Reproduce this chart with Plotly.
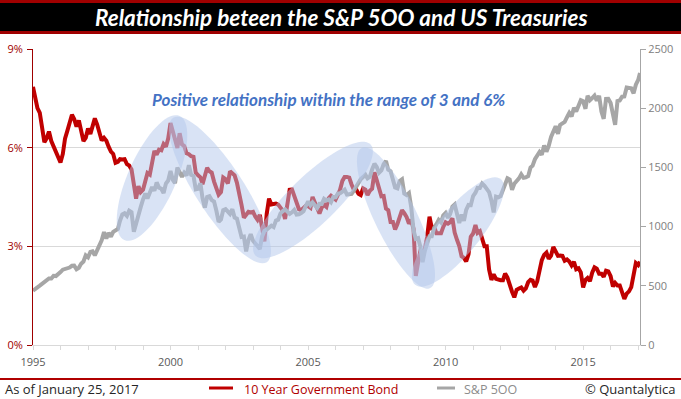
import math
import pandas as pd
import plotly.graph_objects as go

# ---------------- data ----------------
months = pd.date_range("1995-01-01", "2017-01-01", freq="MS").strftime("%Y-%m-%d").tolist()
dates = months + ["2017-01-25"]

bond_yield = [
    7.85, 7.47, 7.20, 7.06, 6.63, 6.17, 6.28, 6.49, 6.20, 6.04, 5.93, 5.71,
    5.55, 5.81, 6.27, 6.51, 6.74, 7.00, 6.87, 6.64, 6.83, 6.53, 6.20, 6.30,
    6.58, 6.42, 6.69, 6.89, 6.71, 6.49, 6.22, 6.30, 6.21, 6.03, 5.88, 5.81,
    5.54, 5.57, 5.65, 5.64, 5.65, 5.50, 5.46, 5.34, 4.81, 4.45, 4.83, 4.65,
    4.72, 5.00, 5.23, 5.18, 5.54, 5.90, 5.79, 5.94, 5.92, 6.11, 6.03, 6.28,
    6.75, 6.52, 6.26, 5.99, 6.44, 6.10, 6.05, 5.83, 5.80, 5.74, 5.72, 5.24,
    5.16, 5.10, 4.89, 5.14, 5.39, 5.28, 5.24, 4.97, 4.73, 4.57, 4.65, 5.09,
    5.04, 4.91, 5.28, 5.21, 5.16, 4.93, 4.65, 4.26, 3.87, 3.94, 4.05, 4.03,
    4.05, 3.90, 3.81, 3.96, 3.57, 3.15, 3.98, 4.45, 4.27, 4.29, 4.30, 4.27,
    4.15, 4.08, 3.83, 4.35, 4.72, 4.73, 4.50, 4.28, 4.13, 4.10, 4.19, 4.23,
    4.22, 4.17, 4.50, 4.34, 4.14, 4.00, 4.18, 4.26, 4.20, 4.46, 4.54, 4.47,
    4.42, 4.57, 4.72, 4.99, 5.11, 5.11, 5.09, 4.88, 4.72, 4.73, 4.60, 4.56,
    4.76, 4.72, 4.56, 4.69, 4.75, 5.25, 5.00, 4.67, 4.52, 4.53, 4.15, 4.10,
    3.74, 3.74, 3.51, 3.68, 3.88, 4.10, 4.01, 3.89, 3.69, 3.81, 3.53, 2.10,
    2.52, 2.87, 2.82, 2.93, 3.29, 3.90, 3.56, 3.59, 3.40, 3.39, 3.40, 3.59,
    3.73, 3.69, 3.73, 3.85, 3.42, 3.20, 3.01, 2.70, 2.65, 2.54, 2.76, 3.29,
    3.39, 3.65, 3.41, 3.46, 3.17, 3.00, 3.00, 2.30, 1.98, 2.15, 2.01, 1.98,
    1.97, 1.97, 2.17, 2.05, 1.80, 1.62, 1.45, 1.68, 1.72, 1.75, 1.65, 1.72,
    1.91, 1.98, 1.96, 1.76, 1.93, 2.30, 2.58, 2.74, 2.81, 2.62, 2.72, 2.98,
    2.86, 2.71, 2.72, 2.71, 2.56, 2.60, 2.54, 2.42, 2.53, 2.30, 2.33, 2.21,
    1.75, 1.98, 2.04, 1.94, 2.20, 2.36, 2.32, 2.17, 2.17, 2.07, 2.26, 2.24,
    2.09, 1.78, 1.89, 1.81, 1.81, 1.64, 1.40, 1.56, 1.63, 1.76, 2.14, 2.49,
    2.43, 2.53,
]

sp500 = [
    459, 470, 487, 501, 515, 533, 545, 562, 562, 584, 582, 605,
    616, 636, 640, 646, 654, 669, 671, 640, 652, 687, 705, 757,
    741, 786, 791, 757, 801, 848, 885, 954, 899, 947, 915, 955,
    970, 980, 1049, 1102, 1112, 1091, 1134, 1121, 957, 1017, 1099, 1164,
    1229, 1280, 1238, 1286, 1335, 1302, 1373, 1329, 1320, 1283, 1363, 1389,
    1469, 1394, 1366, 1499, 1452, 1421, 1455, 1431, 1518, 1437, 1429, 1315,
    1320, 1366, 1240, 1160, 1249, 1256, 1224, 1211, 1134, 1041, 1060, 1139,
    1148, 1130, 1107, 1147, 1076, 1067, 990, 912, 916, 790, 886, 936,
    880, 856, 841, 810, 917, 964, 975, 990, 1008, 996, 1051, 1058,
    1112, 1131, 1145, 1126, 1107, 1121, 1141, 1102, 1104, 1115, 1130, 1174,
    1212, 1181, 1204, 1181, 1157, 1192, 1191, 1234, 1220, 1229, 1207, 1249,
    1248, 1280, 1281, 1295, 1311, 1270, 1270, 1277, 1304, 1336, 1378, 1401,
    1418, 1438, 1407, 1421, 1482, 1531, 1503, 1455, 1474, 1527, 1555, 1481,
    1468, 1379, 1331, 1323, 1386, 1400, 1280, 1267, 1283, 1165, 969, 896,
    903, 826, 700, 798, 873, 919, 919, 987, 1021, 1057, 1036, 1096,
    1115, 1074, 1104, 1169, 1187, 1089, 1031, 1102, 1049, 1141, 1183, 1181,
    1258, 1286, 1327, 1326, 1364, 1345, 1321, 1292, 1219, 1120, 1253, 1247,
    1258, 1312, 1366, 1408, 1398, 1310, 1362, 1379, 1407, 1441, 1412, 1416,
    1426, 1498, 1515, 1569, 1598, 1631, 1606, 1686, 1633, 1682, 1757, 1806,
    1848, 1783, 1859, 1872, 1884, 1924, 1960, 1931, 2003, 1972, 2018, 2068,
    2059, 1995, 2105, 2068, 2086, 2107, 2063, 2104, 1972, 1910, 2079, 2080,
    2044, 1940, 1860, 2060, 2065, 2097, 2099, 2174, 2171, 2168, 2126, 2199,
    2239, 2298,
]

series_names = ["10 Year Government Bond", "S&P 5OO"]
year_ticks = [f"{y}-01-01" for y in range(1995, 2018)]
year_labels = [str(y) if y % 5 == 0 else "" for y in range(1995, 2018)]
left_ticks = [0, 3, 6, 9]
left_labels = ["0%", "3%", "6%", "9%"]
right_ticks = [0, 500, 1000, 1500, 2000, 2500]

# ---------------- layout geometry ----------------
W, H = 681, 399
ML, MR, MT, MB = 33, 41, 49, 54
PW, PH = W - ML - MR, H - MT - MB


def px(x):
    return (x - ML) / PW


def py(y):
    return (H - MB - y) / PH


def ellipse_path(cx, cy, a, b, ang_deg, n=72):
    t = math.radians(ang_deg)
    pts = []
    for i in range(n):
        s = 2 * math.pi * i / n
        ex, ey = a * math.cos(s), b * math.sin(s)
        X = cx + ex * math.cos(t) - ey * math.sin(t)
        Y = cy - (ex * math.sin(t) + ey * math.cos(t))
        pts.append(f"{px(X):.5f},{py(Y):.5f}")
    return "M " + " L ".join(pts) + " Z"


RED = "#C00000"
GRAY = "#A6A6A6"

fig = go.Figure()
fig.add_trace(go.Scatter(
    x=dates, y=bond_yield, mode="lines", yaxis="y", name=series_names[0],
    line=dict(color=RED, width=4), showlegend=False,
))
fig.add_trace(go.Scatter(
    x=dates, y=sp500, mode="lines", yaxis="y2", name=series_names[1],
    line=dict(color=GRAY, width=4), showlegend=False,
))

shapes = []
# title bar
shapes.append(dict(type="rect", xref="paper", yref="paper", x0=px(0), x1=px(W), y0=py(34), y1=py(0),
                   fillcolor="#A00000", line=dict(width=0), layer="above"))
shapes.append(dict(type="rect", xref="paper", yref="paper", x0=px(0), x1=px(W), y0=py(31), y1=py(3),
                   fillcolor="#000000", line=dict(width=0), layer="above"))
# bottom rule
shapes.append(dict(type="line", xref="paper", yref="paper", x0=px(0), x1=px(W), y0=py(379), y1=py(379),
                   line=dict(color="#B00000", width=2), layer="above"))
# legend keys
shapes.append(dict(type="line", xref="paper", yref="paper", x0=px(209), x1=px(233), y0=py(388), y1=py(388),
                   line=dict(color=RED, width=3), layer="above"))
shapes.append(dict(type="line", xref="paper", yref="paper", x0=px(437), x1=px(455), y0=py(388), y1=py(388),
                   line=dict(color=GRAY, width=3), layer="above"))
# highlight ellipses
for cx, cy, a, b, ang in [(152, 178, 68, 24, 66), (220, 190, 86, 24, -57), (313, 200, 80, 24, 44),
                          (396, 218, 78, 21, -64), (458, 232, 68, 22, 51)]:
    shapes.append(dict(type="path", xref="paper", yref="paper", path=ellipse_path(cx, cy, a, b, ang),
                       fillcolor="rgba(180,200,235,0.5)", line=dict(width=0), layer="above"))

annotations = [
    dict(text="<b><i>Relationship beteen the S&P 5OO and US Treasuries</i></b>", xref="paper", yref="paper",
         x=px(341), y=py(17), showarrow=False, xanchor="center", yanchor="middle",
         font=dict(family="Lato", size=22.5, color="#FFFFFF")),
    dict(text="<b><i>Positive relationship within the range of 3 and 6%</i></b>", xref="paper", yref="paper",
         x=px(328), y=py(100), showarrow=False, xanchor="center", yanchor="middle",
         font=dict(family="Lato", size=17, color="#4472C4")),
    dict(text="As of January 25, 2017", xref="paper", yref="paper", x=px(3), y=py(389), showarrow=False,
         xanchor="left", yanchor="middle", font=dict(family="Open Sans", size=13, color="#262626")),
    dict(text="© Quantalytica", xref="paper", yref="paper", x=px(678), y=py(389), showarrow=False,
         xanchor="right", yanchor="middle", font=dict(family="Open Sans", size=13, color="#262626")),
    dict(text=series_names[0], xref="paper", yref="paper", x=px(242), y=py(389), showarrow=False,
         xanchor="left", yanchor="middle", font=dict(family="Open Sans", size=12.5, color="#B00000")),
    dict(text=series_names[1], xref="paper", yref="paper", x=px(462), y=py(389), showarrow=False,
         xanchor="left", yanchor="middle", font=dict(family="Open Sans", size=12.5, color="#8C8C8C")),
]

fig.update_layout(
    width=W, height=H,
    margin=dict(l=ML, r=MR, t=MT, b=MB, pad=0, autoexpand=False),
    paper_bgcolor="#FFFFFF", plot_bgcolor="#FFFFFF",
    font=dict(family="Open Sans", size=11, color="#595959"),
    showlegend=False,
    xaxis=dict(type="date", range=["1995-01-01", "2017-01-25"], tickvals=year_ticks, ticktext=year_labels,
               showgrid=False, zeroline=False, showline=True, linecolor="#D9D9D9", linewidth=1,
               ticks="outside", ticklen=4, tickcolor="#D9D9D9", ticklabelstandoff=3,
               tickfont=dict(size=11, color="#595959")),
    yaxis=dict(range=[0, 9], tickvals=left_ticks, ticktext=left_labels, showgrid=True, gridcolor="#D9D9D9",
               zeroline=False, showline=True, linecolor="#A00000", linewidth=1, ticks="outside", ticklen=5,
               tickcolor="#A00000", ticklabelstandoff=2, tickfont=dict(size=11, color="#A00000")),
    yaxis2=dict(range=[0, 2500], tickvals=right_ticks, overlaying="y", side="right", showgrid=False,
                zeroline=False, showline=True, linecolor="#A6A6A6", linewidth=1, ticks="outside", ticklen=5,
                tickcolor="#A6A6A6", tickfont=dict(size=11, color="#808080")),
    shapes=shapes,
    annotations=annotations,
)

fig.write_html(
    "out.html",
    config={"displayModeBar": False},
    post_script="document.body.style.margin='0';document.body.style.padding='0';"
                "document.body.style.overflow='hidden';",
)
